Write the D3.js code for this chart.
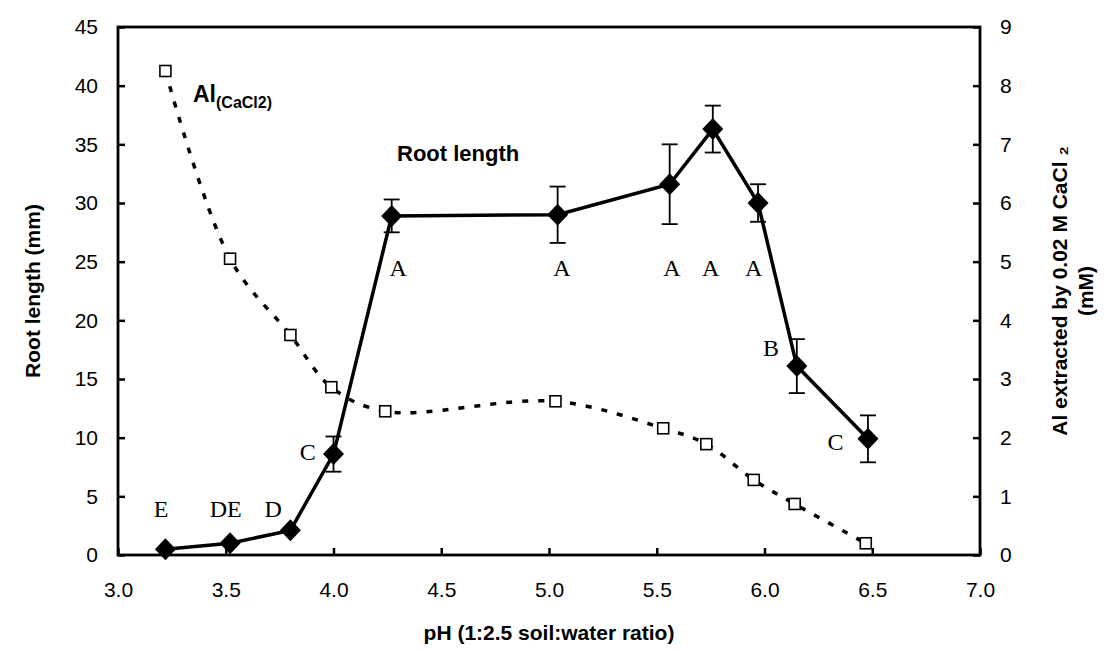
<!DOCTYPE html>
<html>
<head>
<meta charset="utf-8">
<script src="https://cdn.jsdelivr.net/npm/d3@7"></script>
<style>
  body { margin: 0; background: #fff; }
  svg { display: block; }
  .tick text { font-family: "Liberation Sans", Arial, sans-serif; font-size: 21px; fill: #000; }
  .tick line { stroke: #000; stroke-width: 2.5; }
</style>
</head>
<body>
<svg id="chart" width="1112" height="651"></svg>
<script>
// ---- data ----
const rootPH   = [3.22, 3.52, 3.80, 4.00, 4.27, 5.04, 5.56, 5.76, 5.97, 6.15, 6.48];
const rootLen  = [0.5, 1.0, 2.1, 8.6, 28.9, 29.0, 31.6, 36.3, 30.0, 16.1, 9.9];
const rootErr  = [0, 0, 0, 1.5, 1.4, 2.4, 3.4, 2.0, 1.6, 2.3, 2.0];
const letters  = ["E", "DE", "D", "C", "A", "A", "A", "A", "A", "B", "C"];
const letterPH = [3.20, 3.50, 3.72, 3.88, 4.30, 5.06, 5.57, 5.75, 5.95, 6.03, 6.33];
const letterY  = [3.9, 3.9, 3.9, 8.8, 24.5, 24.5, 24.5, 24.5, 24.5, 17.6, 9.6];

const alPH  = [3.22, 3.52, 3.80, 3.99, 4.24, 5.03, 5.53, 5.73, 5.95, 6.14, 6.47];
const alVal = [8.25, 5.05, 3.75, 2.86, 2.45, 2.62, 2.16, 1.89, 1.28, 0.87, 0.2];

const xTicks  = [3.0, 3.5, 4.0, 4.5, 5.0, 5.5, 6.0, 6.5, 7.0];
const yTicks  = [0, 5, 10, 15, 20, 25, 30, 35, 40, 45];
const y2Ticks = [0, 1, 2, 3, 4, 5, 6, 7, 8, 9];

// ---- layout ----
const svg = d3.select("#chart");
const L = 118, R = 980, T = 27, B = 555;
const x  = d3.scaleLinear().domain([3.0, 7.0]).range([L, R]);
const y  = d3.scaleLinear().domain([0, 45]).range([B, T]);
const y2 = d3.scaleLinear().domain([0, 9]).range([B, T]);

// axes (ticks inside)
svg.append("g").attr("transform", `translate(${L},0)`)
  .call(d3.axisLeft(y).tickValues(yTicks).tickSizeInner(-7).tickSizeOuter(0).tickPadding(20).tickFormat(d3.format("d")))
  .call(g => g.select(".domain").remove());
svg.append("g").attr("transform", `translate(${R},0)`)
  .call(d3.axisRight(y2).tickValues(y2Ticks).tickSizeInner(-7).tickSizeOuter(0).tickPadding(20).tickFormat(d3.format("d")))
  .call(g => g.select(".domain").remove());
svg.append("g").attr("transform", `translate(0,${B})`)
  .call(d3.axisBottom(x).tickValues(xTicks).tickSizeInner(-7).tickSizeOuter(0).tickPadding(27).tickFormat(d3.format(".1f")))
  .call(g => g.select(".domain").remove());

// frame
svg.append("rect").attr("x", L).attr("y", T).attr("width", R - L).attr("height", B - T)
  .attr("fill", "none").attr("stroke", "#000").attr("stroke-width", 2.8);

// Al line (dashed, smoothed)
const alData = alPH.map((p, i) => [p, alVal[i]]);
svg.append("path")
  .attr("d", d3.line().x(d => x(d[0])).y(d => y2(d[1])).curve(d3.curveCatmullRom.alpha(0.5))(alData))
  .attr("fill", "none").attr("stroke", "#000").attr("stroke-width", 3.5)
  .attr("stroke-dasharray", "6,10");
svg.selectAll(".alpt").data(alData).enter().append("rect")
  .attr("x", d => x(d[0]) - 5.5).attr("y", d => y2(d[1]) - 5.5)
  .attr("width", 11).attr("height", 11)
  .attr("fill", "#fff").attr("stroke", "#000").attr("stroke-width", 1.6);

// Root length line
const rootData = rootPH.map((p, i) => [p, rootLen[i], rootErr[i]]);
svg.append("path")
  .attr("d", d3.line().x(d => x(d[0])).y(d => y(d[1]))(rootData))
  .attr("fill", "none").attr("stroke", "#000").attr("stroke-width", 3.5);

// error bars
const eb = svg.selectAll(".eb").data(rootData.filter(d => d[2] > 0)).enter().append("g");
eb.append("line").attr("x1", d => x(d[0])).attr("x2", d => x(d[0]))
  .attr("y1", d => y(d[1] + d[2])).attr("y2", d => y(d[1] - d[2]))
  .attr("stroke", "#000").attr("stroke-width", 1.8);
eb.append("line").attr("x1", d => x(d[0]) - 8).attr("x2", d => x(d[0]) + 8)
  .attr("y1", d => y(d[1] + d[2])).attr("y2", d => y(d[1] + d[2]))
  .attr("stroke", "#000").attr("stroke-width", 1.8);
eb.append("line").attr("x1", d => x(d[0]) - 8).attr("x2", d => x(d[0]) + 8)
  .attr("y1", d => y(d[1] - d[2])).attr("y2", d => y(d[1] - d[2]))
  .attr("stroke", "#000").attr("stroke-width", 1.8);

// diamonds
svg.selectAll(".dia").data(rootData).enter().append("path")
  .attr("d", d => {
    const cx = x(d[0]), cy = y(d[1]);
    return `M${cx},${cy - 11}L${cx + 10.5},${cy}L${cx},${cy + 11}L${cx - 10.5},${cy}Z`;
  })
  .attr("fill", "#000");

// significance letters
svg.selectAll(".let").data(letters).enter().append("text")
  .attr("x", (d, i) => x(letterPH[i])).attr("y", (d, i) => y(letterY[i]))
  .attr("text-anchor", "middle").attr("dominant-baseline", "central")
  .attr("font-family", "'Liberation Serif', 'Times New Roman', serif")
  .attr("font-size", 24).attr("fill", "#000")
  .text(d => d);

// series labels
const alLab = svg.append("text").attr("x", 193).attr("y", 102)
  .attr("font-family", "'Liberation Sans', Arial, sans-serif").attr("font-weight", "bold")
  .attr("font-size", 23).attr("fill", "#000");
alLab.append("tspan").text("Al");
alLab.append("tspan").attr("font-size", 16).attr("dy", 6).text("(CaCl2)");

svg.append("text").attr("x", 397).attr("y", 161)
  .attr("font-family", "'Liberation Sans', Arial, sans-serif").attr("font-weight", "bold")
  .attr("font-size", 22).attr("fill", "#000").text("Root length");

// axis titles
svg.append("text").attr("transform", `translate(${(L + R) / 2},640)`)
  .attr("text-anchor", "middle")
  .attr("font-family", "'Liberation Sans', Arial, sans-serif").attr("font-weight", "bold")
  .attr("font-size", 21).attr("fill", "#000").text("pH (1:2.5 soil:water ratio)");

svg.append("text").attr("transform", `translate(40,${(T + B) / 2}) rotate(-90)`)
  .attr("text-anchor", "middle")
  .attr("font-family", "'Liberation Sans', Arial, sans-serif").attr("font-weight", "bold")
  .attr("font-size", 21).attr("fill", "#000").text("Root length (mm)");

const rt = svg.append("text").attr("transform", `translate(1067,${(T + B) / 2}) rotate(-90)`)
  .attr("text-anchor", "middle")
  .attr("font-family", "'Liberation Sans', Arial, sans-serif").attr("font-weight", "bold")
  .attr("font-size", 21).attr("fill", "#000");
rt.append("tspan").attr("x", 0).attr("dy", 0).text("Al extracted by 0.02 M CaCl \u2082");
rt.append("tspan").attr("x", 0).attr("dy", 26).text("(mM)");
</script>
</body>
</html>
